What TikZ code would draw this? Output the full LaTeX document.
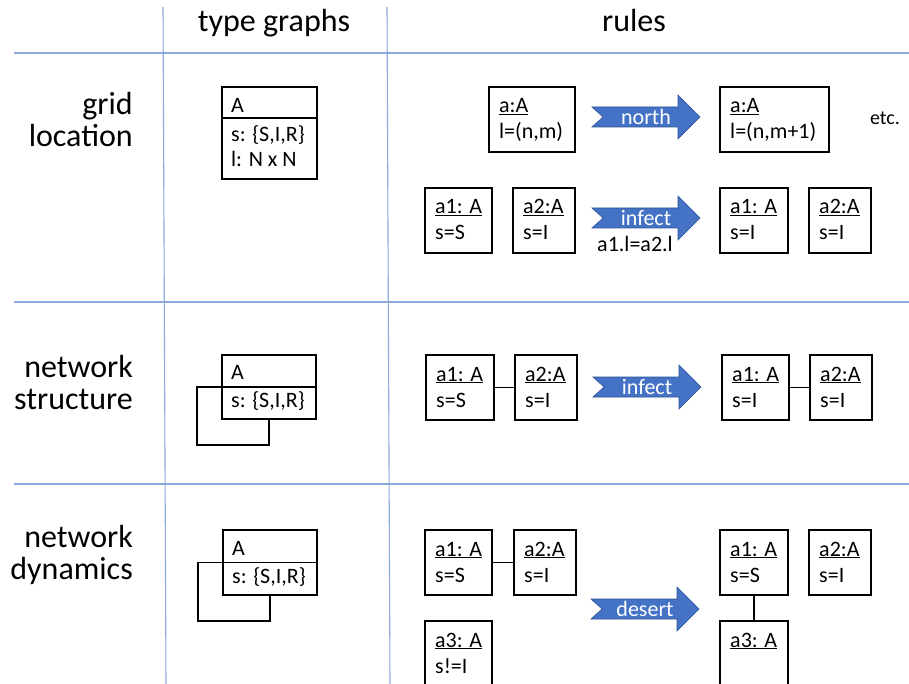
\documentclass[tikz,border=0pt]{standalone}
\usepackage{fontspec}
\setmainfont{Carlito}
\usetikzlibrary{calc}
\definecolor{gridblue}{HTML}{8EA9DB}
\definecolor{arrowblue}{HTML}{4472C4}
\definecolor{arrowedge}{HTML}{2F5597}
\tikzset{
  gridline/.style={draw=gridblue, line width=1.1pt},
  objbox/.style={draw=black, line width=1.8pt, rectangle, inner sep=0pt, anchor=north west},
  boxtext/.style={font=\fontsize{22}{26}\selectfont, inner sep=0pt, anchor=base west},
  headtext/.style={font=\fontsize{32}{32}\selectfont, inner sep=0pt},
  link/.style={draw=black, line width=1.8pt},
  arrowlabel/.style={text=white, font=\fontsize{22}{26}\selectfont, inner sep=0pt},
  bigarrow/.pic={\path[fill=arrowblue, draw=arrowedge, line width=0.6pt]
     (-54,-10) -- (32,-10) -- (32,-22) -- (54,0) -- (32,22) -- (32,10) -- (-54,10) -- (-43,0) -- cycle;}
}
% name, x, y, width, height, line1 (underlined), line2
\newcommand\objbox[7]{%
  \node[objbox, minimum width=#4pt, minimum height=#5pt] (#1) at (#2,#3) {};
  \node[boxtext] (#1-l1) at ($(#1.north west)+(11,27)$) {\underline{#6}};
  \node[boxtext] (#1-l2) at ($(#1.north west)+(11,53)$) {#7};
}
\begin{document}
\begin{tikzpicture}[x=1pt,y=-1pt]
\useasboundingbox (0,0) rectangle (909,684);
\clip (0,0) rectangle (909,684);
\fill[white] (0,0) rectangle (909,684);
% table lines
\draw[gridline] (14,53) -- (909,53);
\draw[gridline] (14,302) -- (909,302);
\draw[gridline] (14,484) -- (909,484);
\draw[gridline] (163,7) -- (166,684);
\draw[gridline] (387,7) -- (390,684);
% headers
\node[headtext, anchor=base] (h1) at (274,32) {type graphs};
\node[headtext, anchor=base] (h2) at (634,32) {rules};
\node[headtext, anchor=base east] (g1) at (133,115) {grid};
\node[headtext, anchor=base east] (g2) at (133,147) {location};
\node[headtext, anchor=base east] (s1) at (133,377) {network};
\node[headtext, anchor=base east] (s2) at (133,409) {structure};
\node[headtext, anchor=base east] (d1) at (133,547) {network};
\node[headtext, anchor=base east] (d2) at (133,579) {dynamics};
% type graphs
\node[objbox, minimum width=95pt, minimum height=92pt] (tg1) at (221,86) {};
\draw[link] ($(tg1.north west)+(0,32)$) -- ($(tg1.north east)+(0,32)$);
\node[boxtext] (tg1-a) at ($(tg1.north west)+(10,27)$) {A};
\node[boxtext] (tg1-s) at ($(tg1.north west)+(10,56)$) {s: \{S,I,R\}};
\node[boxtext] (tg1-l) at ($(tg1.north west)+(10,81)$) {l: N x N};

\node[objbox, minimum width=94pt, minimum height=64pt] (tg2) at (221,354) {};
\draw[link] (tg2.west) -- (tg2.east);
\node[boxtext] (tg2-a) at ($(tg2.north west)+(10,25)$) {A};
\node[boxtext] (tg2-s) at ($(tg2.north west)+(10,53)$) {s: \{S,I,R\}};
\draw[link] (tg2.west) -| ($(tg2.south)+(-72,25)$) -| (tg2.south);

\node[objbox, minimum width=94pt, minimum height=65pt] (tg3) at (222,529) {};
\draw[link] (tg3.west) -- (tg3.east);
\node[boxtext] (tg3-a) at ($(tg3.north west)+(10,26)$) {A};
\node[boxtext] (tg3-s) at ($(tg3.north west)+(10,54)$) {s: \{S,I,R\}};
\draw[link] (tg3.west) -| ($(tg3.south)+(-72,25)$) -| (tg3.south);
% rules: grid location
\objbox{r1a}{488}{86}{86}{65}{a:A}{l=(n,m)}
\pic at (646,117) {bigarrow};
\node[arrowlabel] (ar1) at (646,117) {north};
\objbox{r1b}{719}{86}{109}{65}{a:A}{l=(n,m+1)}
\node[font=\fontsize{20}{24}\selectfont, inner sep=0pt] (etc) at (885,118) {etc.};

\objbox{r2a}{424}{187}{67}{65}{a1: A}{s=S}
\objbox{r2b}{512}{187}{62}{65}{a2:A}{s=I}
\pic at (646,218) {bigarrow};
\node[arrowlabel] (ar2) at (646,218) {infect};
\node[boxtext, anchor=base] (cond) at (635,252) {a1.l=a2.l};
\objbox{r2c}{719}{187}{68}{65}{a1: A}{s=I}
\objbox{r2d}{808}{187}{62}{65}{a2:A}{s=I}
% rules: network structure
\objbox{n1a}{425}{354}{68}{65}{a1: A}{s=S}
\objbox{n1b}{514}{354}{62}{65}{a2:A}{s=I}
\draw[link] (n1a) -- (n1b);
\pic at (647,387) {bigarrow};
\node[arrowlabel] (ar3) at (647,387) {infect};
\objbox{n1c}{721}{354}{67}{65}{a1: A}{s=I}
\objbox{n1d}{809}{354}{62}{65}{a2:A}{s=I}
\draw[link] (n1c) -- (n1d);
% rules: network dynamics
\objbox{d1a}{424}{529}{67}{65}{a1: A}{s=S}
\objbox{d1b}{513}{529}{62}{65}{a2:A}{s=I}
\draw[link] (d1a) -- (d1b);
\objbox{d1c}{424}{620}{67}{64}{a3: A}{s!=I}
\pic at (645,609) {bigarrow};
\node[arrowlabel] (ar4) at (645,609) {desert};
\objbox{d2a}{719}{529}{68}{65}{a1: A}{s=S}
\objbox{d2b}{808}{529}{62}{65}{a2:A}{s=I}
\objbox{d2c}{719}{620}{68}{64}{a3: A}{}
\draw[link] (d2a) -- (d2c);
\end{tikzpicture}
\end{document}
